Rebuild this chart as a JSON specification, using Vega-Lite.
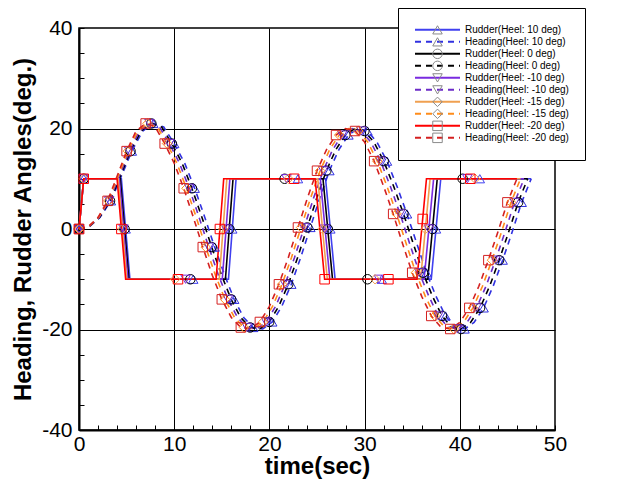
{
"$schema": "https://vega.github.io/schema/vega-lite/v6.json",
"width": 476, "height": 402,
"autosize": {"type": "none"},
"padding": {"left": 79, "top": 28, "right": 79, "bottom": 59},
"background": "white",
"data": {"values": [
{"s":"Rudder(Heel: 10 deg)","t":0,"v":0,"m":1},{"s":"Rudder(Heel: 10 deg)","t":0.5,"v":10,"m":1},{"s":"Rudder(Heel: 10 deg)","t":4.45,"v":10},{"s":"Rudder(Heel: 10 deg)","t":4.9,"v":0,"m":1},{"s":"Rudder(Heel: 10 deg)","t":5.35,"v":-10},{"s":"Rudder(Heel: 10 deg)","t":12.0,"v":-10,"m":1},{"s":"Rudder(Heel: 10 deg)","t":15.7,"v":-10},{"s":"Rudder(Heel: 10 deg)","t":16.1,"v":0,"m":1},{"s":"Rudder(Heel: 10 deg)","t":16.5,"v":10},{"s":"Rudder(Heel: 10 deg)","t":23.0,"v":10,"m":1},{"s":"Rudder(Heel: 10 deg)","t":25.9,"v":10},{"s":"Rudder(Heel: 10 deg)","t":26.4,"v":0,"m":1},{"s":"Rudder(Heel: 10 deg)","t":26.9,"v":-10},{"s":"Rudder(Heel: 10 deg)","t":31.8,"v":-10,"m":1},{"s":"Rudder(Heel: 10 deg)","t":37.0,"v":-10},{"s":"Rudder(Heel: 10 deg)","t":37.5,"v":0,"m":1},{"s":"Rudder(Heel: 10 deg)","t":38.0,"v":10},{"s":"Rudder(Heel: 10 deg)","t":42.1,"v":10,"m":1},{"s":"Rudder(Heel: 10 deg)","t":47.5,"v":10},
{"s":"Heading(Heel: 10 deg)","t":0,"v":0,"m":1},{"s":"Heading(Heel: 10 deg)","t":1.1,"v":0.5},{"s":"Heading(Heel: 10 deg)","t":2.2,"v":2.3},{"s":"Heading(Heel: 10 deg)","t":3.35,"v":5.6,"m":1},{"s":"Heading(Heel: 10 deg)","t":4.45,"v":10.5},{"s":"Heading(Heel: 10 deg)","t":5.55,"v":15.5,"m":1},{"s":"Heading(Heel: 10 deg)","t":6.7,"v":19.5},{"s":"Heading(Heel: 10 deg)","t":7.8,"v":21.0,"m":1},{"s":"Heading(Heel: 10 deg)","t":8.9,"v":20.3},{"s":"Heading(Heel: 10 deg)","t":10,"v":17.0,"m":1},{"s":"Heading(Heel: 10 deg)","t":11.1,"v":13.1},{"s":"Heading(Heel: 10 deg)","t":12.15,"v":8.1,"m":1},{"s":"Heading(Heel: 10 deg)","t":13.2,"v":2.4},{"s":"Heading(Heel: 10 deg)","t":14.25,"v":-3.6,"m":1},{"s":"Heading(Heel: 10 deg)","t":15.3,"v":-9.2},{"s":"Heading(Heel: 10 deg)","t":16.3,"v":-14.0,"m":1},{"s":"Heading(Heel: 10 deg)","t":17.3,"v":-17.6},{"s":"Heading(Heel: 10 deg)","t":18.3,"v":-19.6,"m":1},{"s":"Heading(Heel: 10 deg)","t":19.3,"v":-19.9},{"s":"Heading(Heel: 10 deg)","t":20.3,"v":-18.5,"m":1},{"s":"Heading(Heel: 10 deg)","t":21.3,"v":-15.4},{"s":"Heading(Heel: 10 deg)","t":22.3,"v":-11.0,"m":1},{"s":"Heading(Heel: 10 deg)","t":23.3,"v":-5.6},{"s":"Heading(Heel: 10 deg)","t":24.3,"v":0.3,"m":1},{"s":"Heading(Heel: 10 deg)","t":25.3,"v":6.2},{"s":"Heading(Heel: 10 deg)","t":26.3,"v":11.6,"m":1},{"s":"Heading(Heel: 10 deg)","t":27.3,"v":15.8},{"s":"Heading(Heel: 10 deg)","t":28.3,"v":18.7,"m":1},{"s":"Heading(Heel: 10 deg)","t":29.3,"v":20.0},{"s":"Heading(Heel: 10 deg)","t":30.3,"v":19.5,"m":1},{"s":"Heading(Heel: 10 deg)","t":31.3,"v":17.3},{"s":"Heading(Heel: 10 deg)","t":32.35,"v":13.5,"m":1},{"s":"Heading(Heel: 10 deg)","t":33.4,"v":8.5},{"s":"Heading(Heel: 10 deg)","t":34.45,"v":3.0,"m":1},{"s":"Heading(Heel: 10 deg)","t":35.5,"v":-3.0},{"s":"Heading(Heel: 10 deg)","t":36.5,"v":-8.7,"m":1},{"s":"Heading(Heel: 10 deg)","t":37.5,"v":-13.4},{"s":"Heading(Heel: 10 deg)","t":38.5,"v":-17.3,"m":1},{"s":"Heading(Heel: 10 deg)","t":39.5,"v":-19.5},{"s":"Heading(Heel: 10 deg)","t":40.5,"v":-19.9,"m":1},{"s":"Heading(Heel: 10 deg)","t":41.5,"v":-18.6},{"s":"Heading(Heel: 10 deg)","t":42.5,"v":-15.7,"m":1},{"s":"Heading(Heel: 10 deg)","t":43.5,"v":-11.4},{"s":"Heading(Heel: 10 deg)","t":44.5,"v":-6.2,"m":1},{"s":"Heading(Heel: 10 deg)","t":45.5,"v":-0.6},{"s":"Heading(Heel: 10 deg)","t":46.5,"v":5.3,"m":1},{"s":"Heading(Heel: 10 deg)","t":47.5,"v":10.0},
{"s":"Rudder(Heel: 0 deg)","t":0,"v":0,"m":1},{"s":"Rudder(Heel: 0 deg)","t":0.5,"v":10,"m":1},{"s":"Rudder(Heel: 0 deg)","t":4.34,"v":10},{"s":"Rudder(Heel: 0 deg)","t":4.79,"v":0,"m":1},{"s":"Rudder(Heel: 0 deg)","t":5.24,"v":-10},{"s":"Rudder(Heel: 0 deg)","t":11.7,"v":-10,"m":1},{"s":"Rudder(Heel: 0 deg)","t":15.38,"v":-10},{"s":"Rudder(Heel: 0 deg)","t":15.78,"v":0,"m":1},{"s":"Rudder(Heel: 0 deg)","t":16.18,"v":10},{"s":"Rudder(Heel: 0 deg)","t":21.6,"v":10,"m":1},{"s":"Rudder(Heel: 0 deg)","t":25.63,"v":10},{"s":"Rudder(Heel: 0 deg)","t":26.13,"v":0,"m":1},{"s":"Rudder(Heel: 0 deg)","t":26.63,"v":-10},{"s":"Rudder(Heel: 0 deg)","t":30.3,"v":-10,"m":1},{"s":"Rudder(Heel: 0 deg)","t":36.63,"v":-10},{"s":"Rudder(Heel: 0 deg)","t":37.13,"v":0,"m":1},{"s":"Rudder(Heel: 0 deg)","t":37.63,"v":10},{"s":"Rudder(Heel: 0 deg)","t":40.3,"v":10,"m":1},{"s":"Rudder(Heel: 0 deg)","t":47.13,"v":10},
{"s":"Heading(Heel: 0 deg)","t":0,"v":0,"m":1},{"s":"Heading(Heel: 0 deg)","t":1.08,"v":0.5},{"s":"Heading(Heel: 0 deg)","t":2.15,"v":2.3},{"s":"Heading(Heel: 0 deg)","t":3.26,"v":5.6,"m":1},{"s":"Heading(Heel: 0 deg)","t":4.34,"v":10.5},{"s":"Heading(Heel: 0 deg)","t":5.41,"v":15.5,"m":1},{"s":"Heading(Heel: 0 deg)","t":6.53,"v":19.5},{"s":"Heading(Heel: 0 deg)","t":7.6,"v":21.0,"m":1},{"s":"Heading(Heel: 0 deg)","t":8.68,"v":20.3},{"s":"Heading(Heel: 0 deg)","t":9.75,"v":17.0,"m":1},{"s":"Heading(Heel: 0 deg)","t":10.83,"v":13.1},{"s":"Heading(Heel: 0 deg)","t":11.86,"v":8.1,"m":1},{"s":"Heading(Heel: 0 deg)","t":12.9,"v":2.4},{"s":"Heading(Heel: 0 deg)","t":13.94,"v":-3.6,"m":1},{"s":"Heading(Heel: 0 deg)","t":14.98,"v":-9.2},{"s":"Heading(Heel: 0 deg)","t":15.98,"v":-14.0,"m":1},{"s":"Heading(Heel: 0 deg)","t":16.98,"v":-17.6},{"s":"Heading(Heel: 0 deg)","t":17.98,"v":-19.6,"m":1},{"s":"Heading(Heel: 0 deg)","t":18.98,"v":-19.9},{"s":"Heading(Heel: 0 deg)","t":19.98,"v":-18.5,"m":1},{"s":"Heading(Heel: 0 deg)","t":20.98,"v":-15.4},{"s":"Heading(Heel: 0 deg)","t":21.98,"v":-11.0,"m":1},{"s":"Heading(Heel: 0 deg)","t":22.98,"v":-5.6},{"s":"Heading(Heel: 0 deg)","t":23.98,"v":0.3,"m":1},{"s":"Heading(Heel: 0 deg)","t":24.98,"v":6.2},{"s":"Heading(Heel: 0 deg)","t":25.98,"v":11.6,"m":1},{"s":"Heading(Heel: 0 deg)","t":26.98,"v":15.8},{"s":"Heading(Heel: 0 deg)","t":27.98,"v":18.7,"m":1},{"s":"Heading(Heel: 0 deg)","t":28.98,"v":20.0},{"s":"Heading(Heel: 0 deg)","t":29.98,"v":19.5,"m":1},{"s":"Heading(Heel: 0 deg)","t":30.98,"v":17.3},{"s":"Heading(Heel: 0 deg)","t":32.01,"v":13.5,"m":1},{"s":"Heading(Heel: 0 deg)","t":33.05,"v":8.5},{"s":"Heading(Heel: 0 deg)","t":34.09,"v":3.0,"m":1},{"s":"Heading(Heel: 0 deg)","t":35.13,"v":-3.0},{"s":"Heading(Heel: 0 deg)","t":36.13,"v":-8.7,"m":1},{"s":"Heading(Heel: 0 deg)","t":37.13,"v":-13.4},{"s":"Heading(Heel: 0 deg)","t":38.13,"v":-17.3,"m":1},{"s":"Heading(Heel: 0 deg)","t":39.13,"v":-19.5},{"s":"Heading(Heel: 0 deg)","t":40.13,"v":-19.9,"m":1},{"s":"Heading(Heel: 0 deg)","t":41.13,"v":-18.6},{"s":"Heading(Heel: 0 deg)","t":42.13,"v":-15.7,"m":1},{"s":"Heading(Heel: 0 deg)","t":43.13,"v":-11.4},{"s":"Heading(Heel: 0 deg)","t":44.13,"v":-6.2,"m":1},{"s":"Heading(Heel: 0 deg)","t":45.13,"v":-0.6},{"s":"Heading(Heel: 0 deg)","t":46.13,"v":5.3,"m":1},{"s":"Heading(Heel: 0 deg)","t":47.13,"v":10.0},
{"s":"Rudder(Heel: -10 deg)","t":0,"v":0,"m":1},{"s":"Rudder(Heel: -10 deg)","t":0.5,"v":10,"m":1},{"s":"Rudder(Heel: -10 deg)","t":4.23,"v":10},{"s":"Rudder(Heel: -10 deg)","t":4.68,"v":0,"m":1},{"s":"Rudder(Heel: -10 deg)","t":5.13,"v":-10},{"s":"Rudder(Heel: -10 deg)","t":11.2,"v":-10,"m":1},{"s":"Rudder(Heel: -10 deg)","t":15.05,"v":-10},{"s":"Rudder(Heel: -10 deg)","t":15.45,"v":0,"m":1},{"s":"Rudder(Heel: -10 deg)","t":15.85,"v":10},{"s":"Rudder(Heel: -10 deg)","t":21.8,"v":10,"m":1},{"s":"Rudder(Heel: -10 deg)","t":25.35,"v":10},{"s":"Rudder(Heel: -10 deg)","t":25.85,"v":0,"m":1},{"s":"Rudder(Heel: -10 deg)","t":26.35,"v":-10},{"s":"Rudder(Heel: -10 deg)","t":31.5,"v":-10,"m":1},{"s":"Rudder(Heel: -10 deg)","t":36.25,"v":-10},{"s":"Rudder(Heel: -10 deg)","t":36.75,"v":0,"m":1},{"s":"Rudder(Heel: -10 deg)","t":37.25,"v":10},{"s":"Rudder(Heel: -10 deg)","t":40.8,"v":10,"m":1},{"s":"Rudder(Heel: -10 deg)","t":46.75,"v":10},
{"s":"Heading(Heel: -10 deg)","t":0,"v":0,"m":1},{"s":"Heading(Heel: -10 deg)","t":1.05,"v":0.5},{"s":"Heading(Heel: -10 deg)","t":2.1,"v":2.3},{"s":"Heading(Heel: -10 deg)","t":3.18,"v":5.6,"m":1},{"s":"Heading(Heel: -10 deg)","t":4.23,"v":10.5},{"s":"Heading(Heel: -10 deg)","t":5.28,"v":15.5,"m":1},{"s":"Heading(Heel: -10 deg)","t":6.35,"v":19.5},{"s":"Heading(Heel: -10 deg)","t":7.4,"v":21.0,"m":1},{"s":"Heading(Heel: -10 deg)","t":8.45,"v":20.3},{"s":"Heading(Heel: -10 deg)","t":9.5,"v":17.0,"m":1},{"s":"Heading(Heel: -10 deg)","t":10.55,"v":13.1},{"s":"Heading(Heel: -10 deg)","t":11.58,"v":8.1,"m":1},{"s":"Heading(Heel: -10 deg)","t":12.6,"v":2.4},{"s":"Heading(Heel: -10 deg)","t":13.63,"v":-3.6,"m":1},{"s":"Heading(Heel: -10 deg)","t":14.65,"v":-9.2},{"s":"Heading(Heel: -10 deg)","t":15.65,"v":-14.0,"m":1},{"s":"Heading(Heel: -10 deg)","t":16.65,"v":-17.6},{"s":"Heading(Heel: -10 deg)","t":17.65,"v":-19.6,"m":1},{"s":"Heading(Heel: -10 deg)","t":18.65,"v":-19.9},{"s":"Heading(Heel: -10 deg)","t":19.65,"v":-18.5,"m":1},{"s":"Heading(Heel: -10 deg)","t":20.65,"v":-15.4},{"s":"Heading(Heel: -10 deg)","t":21.65,"v":-11.0,"m":1},{"s":"Heading(Heel: -10 deg)","t":22.65,"v":-5.6},{"s":"Heading(Heel: -10 deg)","t":23.65,"v":0.3,"m":1},{"s":"Heading(Heel: -10 deg)","t":24.65,"v":6.2},{"s":"Heading(Heel: -10 deg)","t":25.65,"v":11.6,"m":1},{"s":"Heading(Heel: -10 deg)","t":26.65,"v":15.8},{"s":"Heading(Heel: -10 deg)","t":27.65,"v":18.7,"m":1},{"s":"Heading(Heel: -10 deg)","t":28.65,"v":20.0},{"s":"Heading(Heel: -10 deg)","t":29.65,"v":19.5,"m":1},{"s":"Heading(Heel: -10 deg)","t":30.65,"v":17.3},{"s":"Heading(Heel: -10 deg)","t":31.68,"v":13.5,"m":1},{"s":"Heading(Heel: -10 deg)","t":32.7,"v":8.5},{"s":"Heading(Heel: -10 deg)","t":33.73,"v":3.0,"m":1},{"s":"Heading(Heel: -10 deg)","t":34.75,"v":-3.0},{"s":"Heading(Heel: -10 deg)","t":35.75,"v":-8.7,"m":1},{"s":"Heading(Heel: -10 deg)","t":36.75,"v":-13.4},{"s":"Heading(Heel: -10 deg)","t":37.75,"v":-17.3,"m":1},{"s":"Heading(Heel: -10 deg)","t":38.75,"v":-19.5},{"s":"Heading(Heel: -10 deg)","t":39.75,"v":-19.9,"m":1},{"s":"Heading(Heel: -10 deg)","t":40.75,"v":-18.6},{"s":"Heading(Heel: -10 deg)","t":41.75,"v":-15.7,"m":1},{"s":"Heading(Heel: -10 deg)","t":42.75,"v":-11.4},{"s":"Heading(Heel: -10 deg)","t":43.75,"v":-6.2,"m":1},{"s":"Heading(Heel: -10 deg)","t":44.75,"v":-0.6},{"s":"Heading(Heel: -10 deg)","t":45.75,"v":5.3,"m":1},{"s":"Heading(Heel: -10 deg)","t":46.75,"v":10.0},
{"s":"Rudder(Heel: -15 deg)","t":0,"v":0,"m":1},{"s":"Rudder(Heel: -15 deg)","t":0.5,"v":10,"m":1},{"s":"Rudder(Heel: -15 deg)","t":4.11,"v":10},{"s":"Rudder(Heel: -15 deg)","t":4.56,"v":0,"m":1},{"s":"Rudder(Heel: -15 deg)","t":5.01,"v":-10},{"s":"Rudder(Heel: -15 deg)","t":10.1,"v":-10,"m":1},{"s":"Rudder(Heel: -15 deg)","t":14.73,"v":-10},{"s":"Rudder(Heel: -15 deg)","t":15.13,"v":0,"m":1},{"s":"Rudder(Heel: -15 deg)","t":15.53,"v":10},{"s":"Rudder(Heel: -15 deg)","t":22.0,"v":10,"m":1},{"s":"Rudder(Heel: -15 deg)","t":25.08,"v":10},{"s":"Rudder(Heel: -15 deg)","t":25.58,"v":0,"m":1},{"s":"Rudder(Heel: -15 deg)","t":26.08,"v":-10},{"s":"Rudder(Heel: -15 deg)","t":31.1,"v":-10,"m":1},{"s":"Rudder(Heel: -15 deg)","t":35.88,"v":-10},{"s":"Rudder(Heel: -15 deg)","t":36.38,"v":0,"m":1},{"s":"Rudder(Heel: -15 deg)","t":36.88,"v":10},{"s":"Rudder(Heel: -15 deg)","t":41.6,"v":10,"m":1},{"s":"Rudder(Heel: -15 deg)","t":46.38,"v":10},
{"s":"Heading(Heel: -15 deg)","t":0,"v":0,"m":1},{"s":"Heading(Heel: -15 deg)","t":1.03,"v":0.5},{"s":"Heading(Heel: -15 deg)","t":2.05,"v":2.3},{"s":"Heading(Heel: -15 deg)","t":3.09,"v":5.6,"m":1},{"s":"Heading(Heel: -15 deg)","t":4.11,"v":10.5},{"s":"Heading(Heel: -15 deg)","t":5.14,"v":15.5,"m":1},{"s":"Heading(Heel: -15 deg)","t":6.18,"v":19.5},{"s":"Heading(Heel: -15 deg)","t":7.2,"v":21.0,"m":1},{"s":"Heading(Heel: -15 deg)","t":8.23,"v":20.3},{"s":"Heading(Heel: -15 deg)","t":9.25,"v":17.0,"m":1},{"s":"Heading(Heel: -15 deg)","t":10.28,"v":13.1},{"s":"Heading(Heel: -15 deg)","t":11.29,"v":8.1,"m":1},{"s":"Heading(Heel: -15 deg)","t":12.3,"v":2.4},{"s":"Heading(Heel: -15 deg)","t":13.31,"v":-3.6,"m":1},{"s":"Heading(Heel: -15 deg)","t":14.33,"v":-9.2},{"s":"Heading(Heel: -15 deg)","t":15.33,"v":-14.0,"m":1},{"s":"Heading(Heel: -15 deg)","t":16.33,"v":-17.6},{"s":"Heading(Heel: -15 deg)","t":17.33,"v":-19.6,"m":1},{"s":"Heading(Heel: -15 deg)","t":18.33,"v":-19.9},{"s":"Heading(Heel: -15 deg)","t":19.33,"v":-18.5,"m":1},{"s":"Heading(Heel: -15 deg)","t":20.33,"v":-15.4},{"s":"Heading(Heel: -15 deg)","t":21.33,"v":-11.0,"m":1},{"s":"Heading(Heel: -15 deg)","t":22.33,"v":-5.6},{"s":"Heading(Heel: -15 deg)","t":23.33,"v":0.3,"m":1},{"s":"Heading(Heel: -15 deg)","t":24.33,"v":6.2},{"s":"Heading(Heel: -15 deg)","t":25.33,"v":11.6,"m":1},{"s":"Heading(Heel: -15 deg)","t":26.33,"v":15.8},{"s":"Heading(Heel: -15 deg)","t":27.33,"v":18.7,"m":1},{"s":"Heading(Heel: -15 deg)","t":28.33,"v":20.0},{"s":"Heading(Heel: -15 deg)","t":29.33,"v":19.5,"m":1},{"s":"Heading(Heel: -15 deg)","t":30.33,"v":17.3},{"s":"Heading(Heel: -15 deg)","t":31.34,"v":13.5,"m":1},{"s":"Heading(Heel: -15 deg)","t":32.35,"v":8.5},{"s":"Heading(Heel: -15 deg)","t":33.36,"v":3.0,"m":1},{"s":"Heading(Heel: -15 deg)","t":34.38,"v":-3.0},{"s":"Heading(Heel: -15 deg)","t":35.38,"v":-8.7,"m":1},{"s":"Heading(Heel: -15 deg)","t":36.38,"v":-13.4},{"s":"Heading(Heel: -15 deg)","t":37.38,"v":-17.3,"m":1},{"s":"Heading(Heel: -15 deg)","t":38.38,"v":-19.5},{"s":"Heading(Heel: -15 deg)","t":39.38,"v":-19.9,"m":1},{"s":"Heading(Heel: -15 deg)","t":40.38,"v":-18.6},{"s":"Heading(Heel: -15 deg)","t":41.38,"v":-15.7,"m":1},{"s":"Heading(Heel: -15 deg)","t":42.38,"v":-11.4},{"s":"Heading(Heel: -15 deg)","t":43.38,"v":-6.2,"m":1},{"s":"Heading(Heel: -15 deg)","t":44.38,"v":-0.6},{"s":"Heading(Heel: -15 deg)","t":45.38,"v":5.3,"m":1},{"s":"Heading(Heel: -15 deg)","t":46.38,"v":10.0},
{"s":"Rudder(Heel: -20 deg)","t":0,"v":0,"m":1},{"s":"Rudder(Heel: -20 deg)","t":0.5,"v":10,"m":1},{"s":"Rudder(Heel: -20 deg)","t":4.0,"v":10},{"s":"Rudder(Heel: -20 deg)","t":4.45,"v":0,"m":1},{"s":"Rudder(Heel: -20 deg)","t":4.9,"v":-10},{"s":"Rudder(Heel: -20 deg)","t":10.4,"v":-10,"m":1},{"s":"Rudder(Heel: -20 deg)","t":14.4,"v":-10},{"s":"Rudder(Heel: -20 deg)","t":14.8,"v":0,"m":1},{"s":"Rudder(Heel: -20 deg)","t":15.2,"v":10},{"s":"Rudder(Heel: -20 deg)","t":22.6,"v":10,"m":1},{"s":"Rudder(Heel: -20 deg)","t":24.8,"v":10},{"s":"Rudder(Heel: -20 deg)","t":25.8,"v":-10,"m":1},{"s":"Rudder(Heel: -20 deg)","t":32.5,"v":-10,"m":1},{"s":"Rudder(Heel: -20 deg)","t":35.5,"v":-10},{"s":"Rudder(Heel: -20 deg)","t":36.1,"v":2,"m":1},{"s":"Rudder(Heel: -20 deg)","t":36.5,"v":10},{"s":"Rudder(Heel: -20 deg)","t":41.1,"v":10,"m":1},{"s":"Rudder(Heel: -20 deg)","t":46.0,"v":10},
{"s":"Heading(Heel: -20 deg)","t":0,"v":0,"m":1},{"s":"Heading(Heel: -20 deg)","t":1,"v":0.5},{"s":"Heading(Heel: -20 deg)","t":2,"v":2.3},{"s":"Heading(Heel: -20 deg)","t":3,"v":5.6,"m":1},{"s":"Heading(Heel: -20 deg)","t":4,"v":10.5},{"s":"Heading(Heel: -20 deg)","t":5,"v":15.5,"m":1},{"s":"Heading(Heel: -20 deg)","t":6,"v":19.5},{"s":"Heading(Heel: -20 deg)","t":7,"v":21.0,"m":1},{"s":"Heading(Heel: -20 deg)","t":8,"v":20.3},{"s":"Heading(Heel: -20 deg)","t":9,"v":17.0,"m":1},{"s":"Heading(Heel: -20 deg)","t":10,"v":13.1},{"s":"Heading(Heel: -20 deg)","t":11,"v":8.1,"m":1},{"s":"Heading(Heel: -20 deg)","t":12,"v":2.4},{"s":"Heading(Heel: -20 deg)","t":13,"v":-3.6,"m":1},{"s":"Heading(Heel: -20 deg)","t":14,"v":-9.2},{"s":"Heading(Heel: -20 deg)","t":15,"v":-14.0,"m":1},{"s":"Heading(Heel: -20 deg)","t":16,"v":-17.6},{"s":"Heading(Heel: -20 deg)","t":17,"v":-19.6,"m":1},{"s":"Heading(Heel: -20 deg)","t":18,"v":-19.9},{"s":"Heading(Heel: -20 deg)","t":19,"v":-18.5,"m":1},{"s":"Heading(Heel: -20 deg)","t":20,"v":-15.4},{"s":"Heading(Heel: -20 deg)","t":21,"v":-11.0,"m":1},{"s":"Heading(Heel: -20 deg)","t":22,"v":-5.6},{"s":"Heading(Heel: -20 deg)","t":23,"v":0.3,"m":1},{"s":"Heading(Heel: -20 deg)","t":24,"v":6.2},{"s":"Heading(Heel: -20 deg)","t":25,"v":11.6,"m":1},{"s":"Heading(Heel: -20 deg)","t":26,"v":15.8},{"s":"Heading(Heel: -20 deg)","t":27,"v":18.7,"m":1},{"s":"Heading(Heel: -20 deg)","t":28,"v":20.0},{"s":"Heading(Heel: -20 deg)","t":29,"v":19.5,"m":1},{"s":"Heading(Heel: -20 deg)","t":30,"v":17.3},{"s":"Heading(Heel: -20 deg)","t":31,"v":13.5,"m":1},{"s":"Heading(Heel: -20 deg)","t":32,"v":8.5},{"s":"Heading(Heel: -20 deg)","t":33,"v":3.0,"m":1},{"s":"Heading(Heel: -20 deg)","t":34,"v":-3.0},{"s":"Heading(Heel: -20 deg)","t":35,"v":-8.7,"m":1},{"s":"Heading(Heel: -20 deg)","t":36,"v":-13.4},{"s":"Heading(Heel: -20 deg)","t":37,"v":-17.3,"m":1},{"s":"Heading(Heel: -20 deg)","t":38,"v":-19.5},{"s":"Heading(Heel: -20 deg)","t":39,"v":-19.9,"m":1},{"s":"Heading(Heel: -20 deg)","t":40,"v":-18.6},{"s":"Heading(Heel: -20 deg)","t":41,"v":-15.7,"m":1},{"s":"Heading(Heel: -20 deg)","t":42,"v":-11.4},{"s":"Heading(Heel: -20 deg)","t":43,"v":-6.2,"m":1},{"s":"Heading(Heel: -20 deg)","t":44,"v":-0.6},{"s":"Heading(Heel: -20 deg)","t":45,"v":5.3,"m":1},{"s":"Heading(Heel: -20 deg)","t":46,"v":10.0}
]},
"encoding": {
  "x": {"field": "t", "type": "quantitative",
    "scale": {"domain": [0, 50], "nice": false, "zero": false},
    "axis": {"values": [0,2,4,6,8,10,12,14,16,18,20,22,24,26,28,30,32,34,36,38,40,42,44,46,48,50],
      "labelExpr": "datum.value % 10 === 0 ? toString(datum.value) : ''",
      "tickSize": -5, "tickColor": "black", "tickWidth": 1,
      "grid": true, "gridColor": "black", "gridWidth": 1,
      "gridOpacity": {"condition": {"test": "datum.value % 10 === 0 && datum.value > 0 && datum.value < 50", "value": 1}, "value": 0},
      "domainColor": "black", "domainWidth": 2,
      "labelFont": "Liberation Sans", "labelFontSize": 21, "labelColor": "black", "labelPadding": 8,
      "labelOverlap": false, "labelFlush": false, "labelBound": false,
      "title": "time(sec)", "titleFont": "Liberation Sans", "titleFontSize": 24, "titleFontWeight": "bold", "titleColor": "black", "titlePadding": 0}},
  "y": {"field": "v", "type": "quantitative",
    "scale": {"domain": [-40, 40], "nice": false},
    "axis": {"values": [-40,-35,-30,-25,-20,-15,-10,-5,0,5,10,15,20,25,30,35,40],
      "labelExpr": "datum.value % 20 === 0 ? toString(datum.value) : ''",
      "tickSize": -5, "tickColor": "black", "tickWidth": 1,
      "grid": true, "gridColor": "black", "gridWidth": 1,
      "gridOpacity": {"condition": {"test": "datum.value % 20 === 0 && datum.value > -40 && datum.value < 40", "value": 1}, "value": 0},
      "domainColor": "black", "domainWidth": 2,
      "labelFont": "Liberation Sans", "labelFontSize": 21, "labelColor": "black", "labelPadding": 12,
      "labelOverlap": false, "labelFlush": false, "labelBound": false,
      "title": "Heading, Rudder Angles(deg.)", "titleFont": "Liberation Sans", "titleFontSize": 24, "titleFontWeight": "bold", "titleColor": "black", "titlePadding": 6}},
  "color": {"field": "s", "type": "nominal",
    "scale": {"domain": ["Rudder(Heel: 10 deg)","Heading(Heel: 10 deg)","Rudder(Heel: 0 deg)","Heading(Heel: 0 deg)","Rudder(Heel: -10 deg)","Heading(Heel: -10 deg)","Rudder(Heel: -15 deg)","Heading(Heel: -15 deg)","Rudder(Heel: -20 deg)","Heading(Heel: -20 deg)"],
      "range": ["#4040f0","#3030e0","#000000","#000000","#7a2be0","#6b2bc8","#f0a050","#ff8c1a","#ff0000","#d42020"]},
    "legend": {"orient": "none", "legendX": 319, "legendY": -20, "title": null, "symbolType": "stroke", "symbolSize": 2025, "symbolStrokeWidth": 2, "clipHeight": 11.7, "rowPadding": 0, "padding": 16, "labelFont": "Liberation Sans", "labelFontSize": 10, "labelColor": "black", "labelOffset": 4, "labelLimit": 300, "strokeColor": "black", "fillColor": "white", "zindex": 1}}
},
"layer": [
  {"mark": {"type": "line", "strokeWidth": 1.6},
   "encoding": {"strokeDash": {"field": "s", "type": "nominal",
     "scale": {"domain": ["Rudder(Heel: 10 deg)","Heading(Heel: 10 deg)","Rudder(Heel: 0 deg)","Heading(Heel: 0 deg)","Rudder(Heel: -10 deg)","Heading(Heel: -10 deg)","Rudder(Heel: -15 deg)","Heading(Heel: -15 deg)","Rudder(Heel: -20 deg)","Heading(Heel: -20 deg)"],
       "range": [[1,0],[6,5],[1,0],[6,5],[1,0],[6,5],[1,0],[6,5],[1,0],[6,5]]},
     "legend": {"orient": "none", "legendX": 319, "legendY": -20, "title": null, "symbolType": "stroke", "symbolSize": 2025, "symbolStrokeWidth": 2, "clipHeight": 11.7, "rowPadding": 0, "padding": 16, "labelFont": "Liberation Sans", "labelFontSize": 10, "labelColor": "black", "labelOffset": 4, "labelLimit": 300, "strokeColor": "black", "fillColor": "white", "zindex": 1}}}},
  {"transform": [{"filter": "datum.m == 1"}],
   "mark": {"type": "point", "filled": false, "size": 90, "strokeWidth": 1, "opacity": 1},
   "encoding": {"shape": {"field": "s", "type": "nominal", "sort": null,
     "scale": {"range": ["triangle-up","triangle-up","circle","circle","triangle-down","triangle-down","diamond","diamond","square","square"]},
     "legend": {"orient": "none", "legendX": 337, "legendY": -20, "title": null, "symbolSize": 90, "symbolStrokeWidth": 1, "clipHeight": 11.7, "rowPadding": 0, "padding": 16, "labelFont": "Liberation Sans", "labelFontSize": 10, "labelExpr": "''", "labelOffset": 4, "labelLimit": 300, "zindex": 2,
       "encode": {"symbols": {"update": {"stroke": {"scale": "color", "field": "value"}, "fill": {"value": "transparent"}}}}}}}}
],
"config": {"view": {"stroke": "black", "strokeWidth": 1.5}, "font": "Liberation Sans"}
}
